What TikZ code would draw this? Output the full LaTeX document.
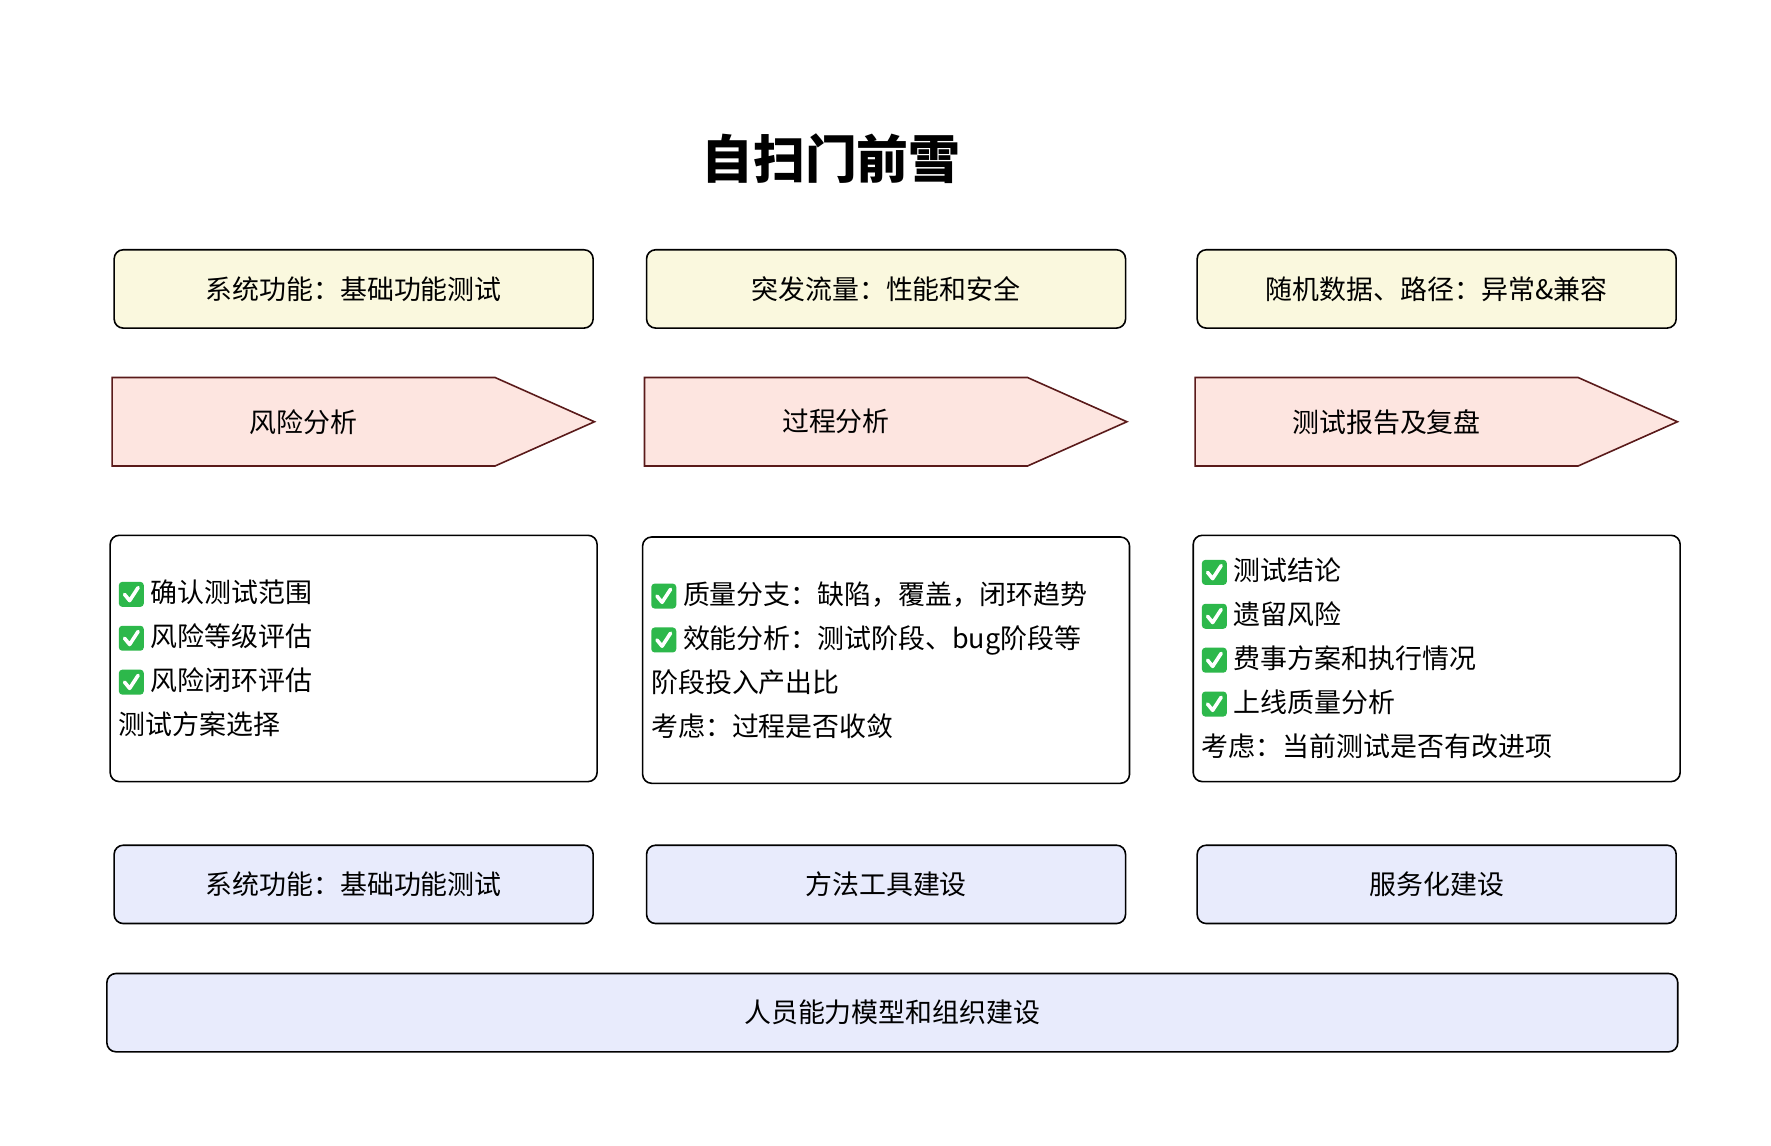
\documentclass[tikz,border=0pt]{standalone}
\usepackage{fontspec}
\setmainfont{Noto Sans CJK SC}
\usetikzlibrary{shapes.symbols,positioning}
\definecolor{boxyellow}{HTML}{FAF8DE}
\definecolor{boxpink}{HTML}{FDE5E0}
\definecolor{boxblue}{HTML}{E8EBFC}
\definecolor{pinkline}{HTML}{5A1A1A}
\definecolor{chkgreen}{HTML}{2DB84B}
\newcommand{\chk}{\raisebox{-0.07cm}{\tikz[x=1cm,y=1cm]{\fill[chkgreen, rounded corners=0.06cm] (0,0) rectangle (0.44,0.44);
  \draw[white, line width=1.8pt, line cap=round, line join=round] (0.1,0.22) -- (0.19,0.11) -- (0.34,0.34);}}\hspace{0.12cm}}
\tikzset{
  topbox/.style={draw, line width=0.8pt, rounded corners=0.16cm, fill=boxyellow, minimum width=8.44cm, minimum height=1.38cm, font=\fontsize{13.5}{16}\selectfont},
  stepbox/.style={signal, signal to=east, signal pointer angle=48, draw=pinkline, line width=0.8pt, fill=boxpink, minimum width=8.5cm, minimum height=1.56cm, anchor=west, font=\fontsize{13.5}{16}\selectfont},
  listbox/.style={draw, line width=0.8pt, rounded corners=0.16cm, fill=white, minimum width=8.58cm, minimum height=4.34cm},
  listtext/.style={align=left, anchor=west, inner sep=0pt, font=\fontsize{13.5}{22}\selectfont},
  basebox/.style={draw, line width=0.8pt, rounded corners=0.16cm, fill=boxblue, minimum width=8.44cm, minimum height=1.38cm, font=\fontsize{13.5}{16}\selectfont}
}
\begin{document}
\begin{tikzpicture}[x=0.02cm, y=-0.02cm]
\useasboundingbox[fill=white] (0,0) rectangle (1560,1009);
% title
\node[font=\bfseries\fontsize{26}{30}\selectfont] (title) at (732,140) {自扫门前雪};
% top row
\node[topbox] (top1) at (311.5,254.5) {系统功能：基础功能测试};
\node[topbox] (top2) at (780.5,254.5) {突发流量：性能和安全};
\node[topbox] (top3) at (1265.5,254.5) {随机数据、路径：异常\&兼容};
% steps
\node[stepbox] (step1) at (98,371.5) {风险分析\hspace{0.5cm}};
\node[stepbox] (step2) at (567,371.5) {过程分析\hspace{0.5cm}};
\node[stepbox] (step3) at (1052,371.5) {测试报告及复盘\hspace{0.5cm}};
% lists
\node[listbox] (list1) at (311.5,580) {};
\node[listbox] (list2) at (780.5,581.5) {};
\node[listbox] (list3) at (1265.5,580) {};
\node[listtext] (text1) at ([xshift=0.16cm]list1.west) {\chk 确认测试范围\\ \chk 风险等级评估\\ \chk 风险闭环评估\\ 测试方案选择};
\node[listtext] (text2) at ([xshift=0.16cm]list2.west) {\chk 质量分支：缺陷，覆盖，闭环趋势\\ \chk 效能分析：测试阶段、bug阶段等\\ 阶段投入产出比\\ 考虑：过程是否收敛};
\node[listtext] (text3) at ([xshift=0.16cm]list3.west) {\chk 测试结论\\ \chk 遗留风险\\ \chk 费事方案和执行情况\\ \chk 上线质量分析\\ 考虑：当前测试是否有改进项};
% base rows
\node[basebox] (base1) at (311.5,779) {系统功能：基础功能测试};
\node[basebox] (base2) at (780.5,779) {方法工具建设};
\node[basebox] (base3) at (1265.5,779) {服务化建设};
\node[basebox, minimum width=27.68cm] (people) at (786,892) {人员能力模型和组织建设};
\end{tikzpicture}
\end{document}
